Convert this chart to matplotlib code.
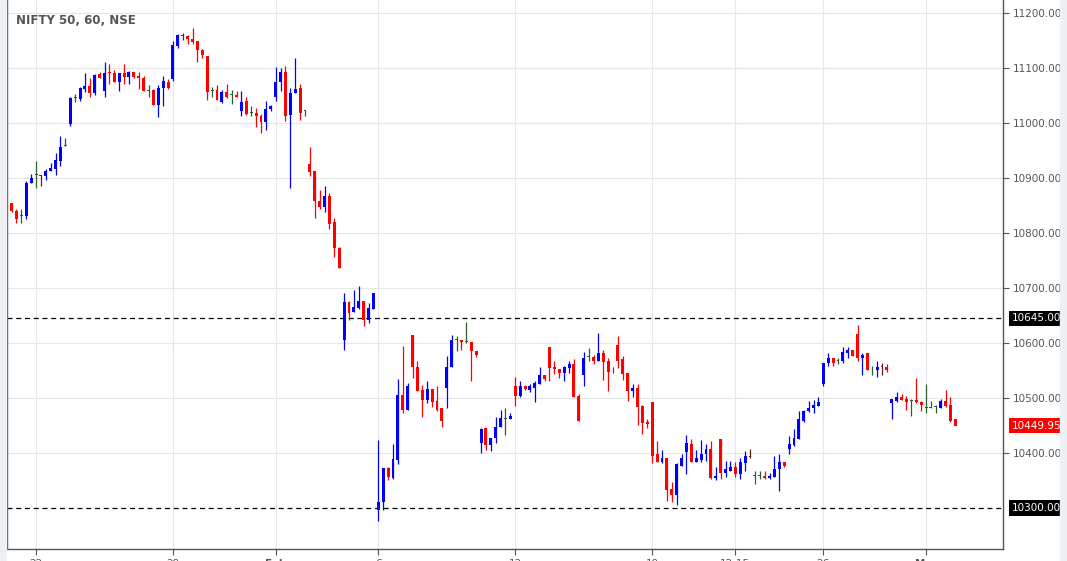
import numpy as np
import matplotlib
matplotlib.use("Agg")
import matplotlib.pyplot as plt
from matplotlib.patches import Rectangle

# ---------- data (NIFTY 50, hourly) ----------
opens = [10852, 10854, 10840, 10830, 10830, 10890, 10905, 10905, 10904, 10912,
         10917, 10931, 10959, 10999, 11045, 11044, 11062, 11067, 11055, 11089,
         11059, 11093, 11091, 11075, 11091, 11084, 11093, 11085, 11082, 11059,
         11060, 11032, 11063, 11075, 11080, 11140, 11159, 11158, 11153, 11149,
         11133, 11122, 11058, 11060, 11038, 11056, 11050, 11051, 11021, 11040,
         11018, 11018, 11013, 11001, 11026, 11047, 11075, 11093, 11015, 11055,
         11064, 11021, 10925, 10913, 10859, 10848, 10867, 10820, 10773, 10606,
         10674, 10657, 10664, 10676, 10641, 10662, 10297, 10310, 10372, 10355,
         10387, 10505, 10479, 10615, 10557, 10515, 10497, 10517, 10495, 10481,
         10519, 10557, 10605, 10606, 10602, 10602, 10586, 10418, 10445, 10414,
         10427, 10447, 10462, 10461, 10521, 10504, 10521, 10515, 10519, 10526,
         10541, 10592, 10557, 10553, 10546, 10555, 10561, 10504, 10541, 10574,
         10575, 10568, 10581, 10568, 10550, 10597, 10570, 10546, 10513, 10519,
         10486, 10457, 10492, 10399, 10384, 10390, 10334, 10323, 10376, 10401,
         10417, 10383, 10388, 10399, 10408, 10354, 10425, 10363, 10368, 10374,
         10361, 10382, 10394, 10358, 10358, 10359, 10354, 10357, 10370, 10383,
         10408, 10415, 10426, 10459, 10477, 10481, 10486, 10526, 10564, 10573,
         10568, 10568, 10582, 10588, 10617, 10572, 10581, 10550, 10550, 10557,
         10557, 10490, 10495, 10502, 10499, 10495, 10497, 10493, 10482, 10482,
         10484, 10482, 10495, 10488, 10461]
highs = [10855, 10855, 10843, 10843, 10895, 10907, 10931, 10906, 10917, 10927,
         10945, 10976, 10973, 11047, 11053, 11065, 11090, 11082, 11089, 11093,
         11111, 11107, 11096, 11091, 11107, 11095, 11093, 11093, 11085, 11069,
         11062, 11069, 11086, 11080, 11149, 11162, 11164, 11160, 11173, 11149,
         11135, 11122, 11065, 11069, 11060, 11071, 11060, 11058, 11058, 11047,
         11030, 11028, 11017, 11040, 11033, 11102, 11100, 11104, 11064, 11118,
         11071, 11024, 10956, 10913, 10878, 10885, 10872, 10827, 10775, 10691,
         10676, 10697, 10704, 10676, 10673, 10691, 10424, 10372, 10374, 10416,
         10535, 10595, 10527, 10615, 10568, 10524, 10530, 10517, 10521, 10481,
         10577, 10615, 10613, 10606, 10639, 10602, 10586, 10445, 10445, 10428,
         10465, 10478, 10482, 10472, 10539, 10530, 10524, 10526, 10530, 10557,
         10541, 10592, 10568, 10553, 10559, 10568, 10570, 10508, 10584, 10590,
         10579, 10619, 10588, 10572, 10557, 10613, 10577, 10546, 10526, 10526,
         10488, 10462, 10492, 10422, 10406, 10390, 10348, 10381, 10399, 10432,
         10426, 10406, 10424, 10417, 10421, 10374, 10425, 10386, 10386, 10383,
         10390, 10403, 10407, 10367, 10367, 10367, 10363, 10395, 10399, 10384,
         10430, 10444, 10477, 10479, 10495, 10497, 10501, 10564, 10581, 10573,
         10573, 10592, 10593, 10588, 10633, 10581, 10581, 10559, 10568, 10564,
         10561, 10499, 10510, 10508, 10504, 10499, 10537, 10495, 10526, 10495,
         10488, 10499, 10515, 10502, 10462]
lows = [10852, 10838, 10819, 10819, 10826, 10890, 10882, 10886, 10897, 10912,
        10906, 10921, 10959, 10995, 11039, 11040, 11057, 11048, 11050, 11081,
        11048, 11071, 11075, 11059, 11071, 11071, 11082, 11061, 11059, 11047,
        11033, 11010, 11030, 11062, 11076, 11137, 11150, 11144, 11144, 11110,
        11119, 11042, 11047, 11041, 11037, 11045, 11035, 11048, 11012, 11014,
        11012, 10992, 10981, 10987, 11022, 11040, 11058, 11004, 10881, 11055,
        11006, 11012, 10904, 10828, 10844, 10839, 10808, 10757, 10737, 10588,
        10642, 10657, 10662, 10630, 10637, 10662, 10277, 10297, 10350, 10353,
        10380, 10473, 10479, 10536, 10513, 10466, 10490, 10483, 10477, 10448,
        10481, 10556, 10586, 10588, 10600, 10530, 10574, 10400, 10405, 10403,
        10419, 10447, 10432, 10461, 10486, 10502, 10515, 10510, 10493, 10526,
        10530, 10530, 10544, 10537, 10530, 10546, 10502, 10459, 10521, 10568,
        10562, 10568, 10533, 10512, 10546, 10555, 10533, 10495, 10502, 10450,
        10435, 10446, 10381, 10384, 10382, 10313, 10310, 10305, 10376, 10361,
        10383, 10383, 10384, 10386, 10352, 10350, 10352, 10356, 10368, 10356,
        10352, 10367, 10390, 10343, 10352, 10352, 10352, 10357, 10331, 10375,
        10399, 10413, 10426, 10457, 10475, 10473, 10486, 10521, 10559, 10559,
        10562, 10564, 10573, 10577, 10568, 10542, 10550, 10541, 10539, 10542,
        10548, 10462, 10492, 10497, 10479, 10468, 10490, 10477, 10473, 10482,
        10473, 10482, 10484, 10457, 10450]
closes = [10852, 10840, 10826, 10830, 10890, 10900, 10905, 10903, 10913, 10919,
          10933, 10956, 10959, 11045, 11045, 11064, 11067, 11055, 11087, 11082,
          11091, 11090, 11075, 11091, 11084, 11093, 11084, 11081, 11059, 11059,
          11033, 11064, 11077, 11064, 11142, 11160, 11158, 11152, 11148, 11132,
          11124, 11057, 11058, 11041, 11056, 11047, 11050, 11048, 11038, 11017,
          11018, 11012, 11001, 11026, 11030, 11075, 11093, 11013, 11055, 11062,
          11019, 11021, 10911, 10859, 10848, 10867, 10817, 10772, 10737, 10674,
          10655, 10665, 10676, 10641, 10664, 10691, 10311, 10372, 10357, 10389,
          10505, 10479, 10522, 10556, 10513, 10497, 10517, 10493, 10479, 10459,
          10557, 10606, 10605, 10601, 10602, 10585, 10579, 10443, 10414, 10428,
          10448, 10463, 10462, 10468, 10504, 10521, 10517, 10521, 10528, 10541,
          10535, 10555, 10552, 10546, 10557, 10561, 10502, 10459, 10573, 10574,
          10568, 10581, 10566, 10548, 10550, 10568, 10544, 10513, 10519, 10484,
          10455, 10452, 10395, 10384, 10390, 10332, 10323, 10380, 10390, 10419,
          10383, 10390, 10399, 10408, 10354, 10359, 10363, 10370, 10374, 10361,
          10383, 10394, 10392, 10358, 10358, 10354, 10359, 10371, 10383, 10377,
          10417, 10428, 10461, 10477, 10482, 10488, 10493, 10564, 10572, 10564,
          10568, 10584, 10588, 10577, 10572, 10579, 10550, 10550, 10557, 10556,
          10550, 10499, 10502, 10497, 10493, 10495, 10492, 10488, 10482, 10482,
          10484, 10495, 10486, 10459, 10449.95]

tick_pos = [6, 34, 55, 76, 104, 132, 149, 167, 188]
tick_labels = ["22", "29", "Feb", "6", "12", "19", "12:15", "26", "Mar"]
y_ticks = [10400, 10500, 10600, 10700, 10800, 10900, 11000, 11100, 11200]
levels = [10645, 10300]

# ---------- draw ----------
fig = plt.figure(figsize=(10.67, 5.61), dpi=100)
fig.patches.append(Rectangle((0, 0), 6 / 1067, 1, transform=fig.transFigure,
                             color="#eef1f4", zorder=0))
fig.patches.append(Rectangle((1060 / 1067, 0), 7 / 1067, 1, transform=fig.transFigure,
                             color="#eef1f4", zorder=0))
ax = fig.add_axes([6.7 / 1067, 11.7 / 561, (1003.3 - 6.7) / 1067, 549.3 / 561])

w = 0.6
for i, (o, h, l, c) in enumerate(zip(opens, highs, lows, closes)):
    if abs(c - o) < 3:
        col = "#2e5e2e" if c >= o else "#5c2323"
    else:
        col = "#0000ff" if c > o else "#ff0000"
    ax.plot([i, i], [l, h], color=col, lw=0.9, solid_capstyle="butt", zorder=3)
    bot = min(o, c)
    hgt = max(abs(c - o), 1.8)
    ax.add_patch(Rectangle((i - w / 2, bot), w, hgt, facecolor=col,
                           edgecolor="none", zorder=4))

for lv in levels:
    ax.axhline(lv, color="black", lw=0.9, ls=(0, (4, 3)), zorder=2)

ax.set_xlim(0, 203.8)
ax.set_ylim(10224.9, 11223.6)
ax.set_xticks(tick_pos)
ax.set_xticklabels(tick_labels)
for t, lab in zip(ax.get_xticklabels(), tick_labels):
    t.set_color("#555555")
    t.set_fontsize(7.5)
    if lab in ("Feb", "Mar"):
        t.set_fontweight("bold")
ax.set_yticks(y_ticks)
ax.yaxis.tick_right()
ax.set_yticklabels([f"{v:.2f}" for v in y_ticks], color="#555555", fontsize=7.5)
ax.tick_params(axis="both", length=4, color="#555555", pad=3)
ax.grid(True, color="#e6e6e6", lw=0.8, zorder=0)
ax.set_axisbelow(True)
ax.spines["top"].set_visible(False)
for side in ["left", "right", "bottom"]:
    ax.spines[side].set_color("#555555")
    ax.spines[side].set_linewidth(1.0)

# price labels on the right axis
for val, bg in [(10645, "black"), (10300, "black"), (closes[-1], "#ff0000")]:
    ax.annotate(f"{val:.2f}", xy=(1, val), xycoords=("axes fraction", "data"),
                xytext=(6, 0), textcoords="offset points", va="center", ha="left",
                color="white", fontsize=7.5,
                bbox=dict(boxstyle="square,pad=0.25", fc=bg, ec="none"),
                annotation_clip=False, zorder=10)

ax.text(0.009, 0.975, "NIFTY 50, 60, NSE", transform=ax.transAxes, ha="left",
        va="top", fontsize=8.5, fontweight="bold", color="#555555")

fig.savefig("out.png", dpi=100)
